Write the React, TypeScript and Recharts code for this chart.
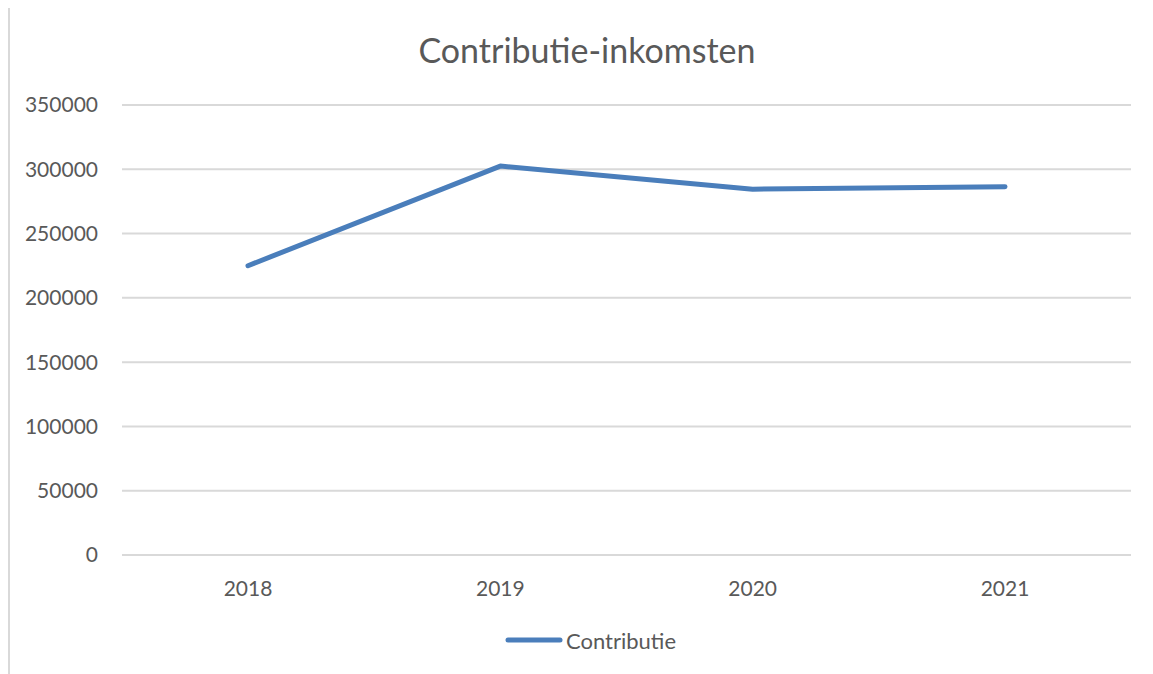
import { LineChart, Line, XAxis, YAxis, CartesianGrid, Legend } from "recharts"

const years = ["2018", "2019", "2020", "2021"]
const contributie = [225000, 302500, 284500, 286500]
const yTicks = [0, 50000, 100000, 150000, 200000, 250000, 300000, 350000]

const data = years.map((year, i) => ({ year, Contributie: contributie[i] }))

const FONT = "Lato, 'Open Sans', sans-serif"
const TEXT = "#595959"
const BLUE = "#4a7ebb"

const renderLegend = () => (
  <div style={{ display: "flex", alignItems: "center", justifyContent: "center", fontFamily: FONT, fontSize: 22, color: TEXT, height: 26 }}>
    <svg width={58} height={10} style={{ marginRight: 3 }}>
      <line x1={3} y1={5} x2={55} y2={5} stroke={BLUE} strokeWidth={5} strokeLinecap="round" />
    </svg>
    <span>Contributie</span>
  </div>
)

export default function App() {
  return (
    <div
      style={{
        position: "relative",
        marginTop: -2,
        width: 1145,
        height: 668,
        borderTop: "2px solid #d9d9d9",
        borderLeft: "2px solid #d9d9d9",
        boxSizing: "border-box",
        background: "#fff",
      }}
    >
      <div
        style={{
          position: "absolute",
          left: 0,
          width: 1154,
          top: 21,
          textAlign: "center",
          fontFamily: FONT,
          fontSize: 34,
          color: TEXT,
        }}
      >
        Contributie-inkomsten
      </div>
      <LineChart width={1143} height={666} data={data} margin={{ top: 97, right: 22, left: 0, bottom: 0 }}>
        <CartesianGrid vertical={false} stroke="#d9d9d9" strokeWidth={2} />
        <XAxis
          dataKey="year"
          axisLine={false}
          tickLine={false}
          padding={{ left: 126, right: 126 }}
          tick={{ fill: TEXT, fontSize: 21, fontFamily: FONT }}
          tickMargin={20}
          height={60}
        />
        <YAxis
          width={112}
          domain={[0, 350000]}
          ticks={yTicks}
          axisLine={false}
          tickLine={false}
          tickSize={0}
          tickMargin={24}
          tick={{ fill: TEXT, fontSize: 21, fontFamily: FONT }}
        />
        <Legend verticalAlign="bottom" height={59} content={renderLegend} wrapperStyle={{ left: 20, top: 619, bottom: "auto" }} />
        <Line
          type="linear"
          dataKey="Contributie"
          stroke={BLUE}
          strokeWidth={5}
          strokeLinecap="round"
          strokeLinejoin="round"
          dot={false}
          isAnimationActive={false}
        />
      </LineChart>
    </div>
  )
}
